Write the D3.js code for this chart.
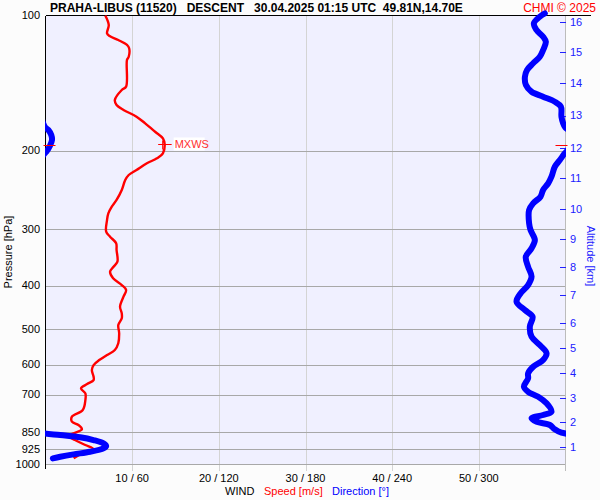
<!DOCTYPE html>
<html><head><meta charset="utf-8">
<script src="https://cdn.jsdelivr.net/npm/d3@7"></script>
<style>
body{margin:0;background:#fcfcfc}
svg{display:block}
text{font-family:"Liberation Sans",Arial,Helvetica,sans-serif}
</style>
</head><body>
<svg id="chart" width="600" height="500"></svg>
<script>
// ---------- DATA ----------
const titleText = "PRAHA-LIBUS (11520)   DESCENT   30.04.2025 01:15 UTC  49.81N,14.70E";
const creditText = "CHMI \u00A9 2025";
const pressureTicks = [100, 200, 300, 400, 500, 600, 700, 850, 925, 1000];
const pressureGrid = [200, 300, 400, 500, 600, 700, 850, 925];
const speedTicks = [10, 20, 30, 40, 50];
const speedTickLabels = ["10 / 60", "20 / 120", "30 / 180", "40 / 240", "50 / 300"];
const altitudeKm = [1, 2, 3, 4, 5, 6, 7, 8, 9, 10, 11, 12, 13, 14, 15, 16];
const altitudePressure = [915.5, 806.9, 711.8, 626.1, 550.8, 485.5, 420.3, 364.1, 315.8, 269.8, 230.1, 197.2, 167.1, 141.2, 120.5, 103.3];

const speedPressure = [100,105,109.6,111.1,113.4,116.3,118.3,123.6,125.6,144.1,146.6,154.3,158.3,162.4,168.1,174.0,181.6,187.9,193.8,202.9,208.2,213.6,221.1,226.8,232.7,244.9,257.8,266.9,276.1,285.8,303.4,311.3,322.0,333.3,353.9,363.2,372.6,385.5,399.0,409.3,423.6,446.0,461.3,473.3,489.8,511.1,538.0,557.0,571.5,586.4,601.7,617.3,639.0,649.9,663.4,678.2,695.8,720.1,757.9,784.4,804.9,818.6,836.9,854.3,866.3,884.3,907.3,927.5,946.7,971.1];
const speedValues = [6.9,7.3,7.1,7.4,8.4,9.4,9.65,9.6,9.4,9.3,8.8,8.0,8.2,9.0,10.5,11.5,12.65,13.55,13.75,13.55,12.85,11.7,10.5,9.6,9.2,8.8,8.2,7.65,7.25,7.1,7.0,7.45,8.15,8.2,8.3,7.85,7.45,7.8,8.8,9.3,9.0,8.6,8.8,8.8,8.4,8.5,8.4,8.0,7.1,6.2,5.55,5.35,5.55,5.55,4.8,4.1,4.6,4.6,4.3,3.05,3.05,3.8,4.2,3.25,2.65,3.4,4.6,5.55,4.2,3.25];

const dirPressure = [98.9,100.6,104.1,107.7,111.5,114.4,119.4,123.6,127.8,132.3,136.9,142.9,147.9,151.7,155.7,159.7,168.1,174.0,177.6,180.0,184.7,189.5,195.4,201.5,202.9,210.0,217.4,228.8,236.7,244.9,253.5,262.3,271.5,290.6,300.8,316.7,330.4,345.0,363.2,382.3,399.0,416.4,434.6,453.6,469.5,494.2,520.2,542.9,566.4,586.4,606.9,627.9,644.2,672.6,690.2,707.9,732.3,764.5,777.5,790.9,804.9,818.6,836.9,851.7,861.6,871.9,884.3,899.3,912.0,922.9,939.2,951.8,963.6,971.6];
const dirValues = [345.7,342.2,338.1,339.9,344.5,346.4,344.5,342.2,337.6,333.4,331.9,332.6,336.5,344.5,352.6,356.8,357.2,358.4,359.8,2,4,4.5,3,0.5,359.5,356.1,352.6,350.3,348.0,344.5,342.7,337.6,334.8,334.8,335.8,338.8,336.5,332.5,334.1,336.5,334.1,328.9,326.1,331.9,337.2,335.3,336.5,342.2,346.9,344.5,337.6,334.1,334.1,331.2,334.1,341.1,346.9,350.3,344.5,336.5,340.0,349.2,352.6,357.2,10.2,24.0,33.2,40.1,42.0,40.1,30.9,19.4,10.2,5.1];

const mxwsPressure = 193.8;
const mxwsSpeed = 13.75;
const mxwsLabel = "MXWS";
const tropopausePressure = 194;

// ---------- LAYOUT ----------
const L = 45.5, R = 565.5, T = 15.5, B = 464;
const svg = d3.select("#chart");

const y = d3.scaleLog().domain([100, 1000]).range([T, B]);
const xs = d3.scaleLinear().domain([0, 60]).range([L, R]);
const xd = d3.scaleLinear().domain([0, 360]).range([L, R]);

// plot background
svg.append("rect").attr("x", L).attr("y", T).attr("width", R - L).attr("height", B - T).attr("fill", "#f0f0ff");

// vertical grid (speed)
svg.append("g").selectAll("line").data(speedTicks).join("line")
  .attr("x1", d => Math.round(xs(d)) + 0.5).attr("x2", d => Math.round(xs(d)) + 0.5)
  .attr("y1", T).attr("y2", B + 7)
  .attr("stroke", "#d4d4d4").attr("stroke-width", 1).attr("shape-rendering", "crispEdges");

// pressure grid
svg.append("g").selectAll("line").data(pressureGrid).join("line")
  .attr("x1", L).attr("x2", R)
  .attr("y1", d => Math.round(y(d)) + 0.5).attr("y2", d => Math.round(y(d)) + 0.5)
  .attr("stroke", "#a8a8a8").attr("stroke-width", 1).attr("shape-rendering", "crispEdges");

// bottom axis line, right axis line
svg.append("line").attr("x1", L).attr("x2", R).attr("y1", B + 0.5).attr("y2", B + 0.5)
  .attr("stroke", "#a8a8a8").attr("shape-rendering", "crispEdges");
svg.append("line").attr("x1", R).attr("x2", R).attr("y1", T).attr("y2", B + 7)
  .attr("stroke", "#bcbcbc").attr("shape-rendering", "crispEdges");

// left axis & top line
svg.append("line").attr("x1", L).attr("x2", L).attr("y1", T).attr("y2", B + 5)
  .attr("stroke", "#000").attr("shape-rendering", "crispEdges");
svg.append("line").attr("x1", L).attr("x2", 591).attr("y1", T).attr("y2", T)
  .attr("stroke", "#000").attr("shape-rendering", "crispEdges");

// left tick labels
svg.append("g").selectAll("text").data(pressureTicks).join("text")
  .attr("x", 40).attr("y", d => y(d)).attr("dy", "0.36em")
  .attr("text-anchor", "end").attr("font-size", 11).attr("fill", "#000")
  .text(d => d);

svg.append("text").attr("transform", `translate(12,252) rotate(-90)`)
  .attr("text-anchor", "middle").attr("font-size", 11).attr("fill", "#000")
  .text("Pressure [hPa]");

// bottom tick labels
svg.append("g").selectAll("text").data(speedTicks).join("text")
  .attr("x", d => xs(d)).attr("y", 482)
  .attr("text-anchor", "middle").attr("font-size", 11).attr("fill", "#000")
  .text((d, i) => speedTickLabels[i]);

// bottom title
svg.append("text").attr("x", 225).attr("y", 495).attr("font-size", 11).attr("fill", "#000").text("WIND");
svg.append("text").attr("x", 264).attr("y", 495).attr("font-size", 11).attr("fill", "#ff0000").text("Speed [m/s]");
svg.append("text").attr("x", 332).attr("y", 495).attr("font-size", 11).attr("fill", "#0000ff").text("Direction [\u00B0]");

// right altitude axis
const ag = svg.append("g");
ag.selectAll("line").data(altitudePressure).join("line")
  .attr("x1", R - 6).attr("x2", R).attr("y1", d => Math.round(y(d)) + 0.5).attr("y2", d => Math.round(y(d)) + 0.5)
  .attr("stroke", "#2020ff").attr("shape-rendering", "crispEdges");
ag.selectAll("text").data(altitudePressure).join("text")
  .attr("x", 570).attr("y", d => y(d)).attr("dy", "0.36em")
  .attr("font-size", 11).attr("fill", "#2020ff")
  .text((d, i) => altitudeKm[i]);
svg.append("text").attr("transform", `translate(587,256) rotate(90)`)
  .attr("text-anchor", "middle").attr("font-size", 11).attr("fill", "#2020ff")
  .text("Altitude [km]");

// title
svg.append("text").attr("x", 50).attr("y", 12).attr("font-size", 12).attr("font-weight", "bold")
  .attr("fill", "#000").style("white-space", "pre").text(titleText);
svg.append("text").attr("x", 596).attr("y", 12).attr("font-size", 12).attr("text-anchor", "end")
  .attr("fill", "#ff0000").text(creditText);

// clip for direction
svg.append("defs").append("clipPath").attr("id", "plotclip")
  .append("rect").attr("x", L - 0.5).attr("y", 0).attr("width", R - L + 1).attr("height", 500);

// speed line
const speedData = speedPressure.map((p, i) => ({p, v: speedValues[i]}));
const speedLine = d3.line().x(d => xs(d.v)).y(d => y(d.p)).curve(d3.curveCatmullRom.alpha(0.5));
svg.append("path").datum(speedData).attr("d", speedLine)
  .attr("fill", "none").attr("stroke", "#ff0000").attr("stroke-width", 2.4).attr("stroke-linejoin", "round");

// direction line (unwrap, draw with +-360 copies, clipped)
let off = 0;
const dirData = dirPressure.map((p, i) => {
  if (i > 0) {
    const diff = dirValues[i] - dirValues[i - 1];
    if (diff < -180) off += 360;
    else if (diff > 180) off -= 360;
  }
  return {p, v: dirValues[i] + off};
});
const dg = svg.append("g").attr("clip-path", "url(#plotclip)");
[-360, 0, 360, 720].forEach(shift => {
  const dirLine = d3.line().x(d => xd(d.v - shift)).y(d => y(d.p)).curve(d3.curveCatmullRom.alpha(0.5));
  dg.append("path").datum(dirData).attr("d", dirLine)
    .attr("fill", "none").attr("stroke", "#0000ff").attr("stroke-width", 6)
    .attr("stroke-linecap", "round").attr("stroke-linejoin", "round");
});

// tropopause markers
const ty = Math.round(y(tropopausePressure)) + 0.5;
svg.append("line").attr("x1", L - 2).attr("x2", L + 10).attr("y1", ty).attr("y2", ty).attr("stroke", "#ff0000").attr("stroke-width", 1);
svg.append("line").attr("x1", R - 10).attr("x2", R + 2).attr("y1", ty).attr("y2", ty).attr("stroke", "#ff0000").attr("stroke-width", 1);

// MXWS marker
const mx = xs(mxwsSpeed), my = Math.round(y(mxwsPressure)) + 0.5;
svg.append("line").attr("x1", mx - 6.5).attr("x2", mx + 7).attr("y1", my).attr("y2", my).attr("stroke", "#ff0000").attr("stroke-width", 1);
svg.append("line").attr("x1", mx - 2).attr("x2", mx - 2).attr("y1", my - 4).attr("y2", my + 5).attr("stroke", "#ff0000").attr("stroke-width", 1);
svg.append("rect").attr("x", mx + 9).attr("y", my - 7).attr("width", 31).attr("height", 13).attr("fill", "#ffffff");
svg.append("text").attr("x", mx + 10).attr("y", my).attr("dy", "0.36em").attr("font-size", 11)
  .attr("fill", "#ff3030").text(mxwsLabel);
</script>
</body></html>
